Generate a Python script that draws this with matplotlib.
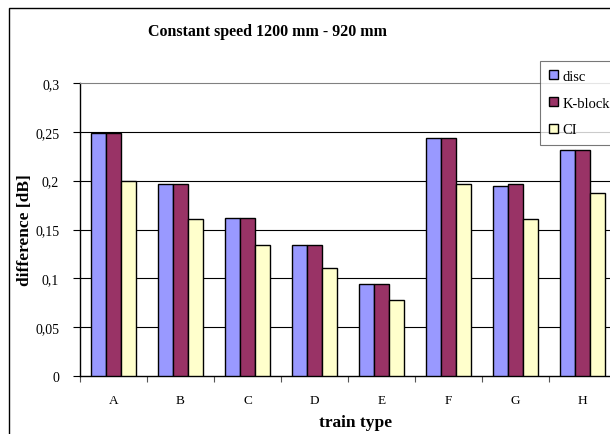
import matplotlib.pyplot as plt
import numpy as np
from matplotlib.patches import Rectangle

# valores
tipos = ['A', 'B', 'C', 'D', 'E', 'F', 'G', 'H']
disc = [0.249, 0.197, 0.162, 0.134, 0.094, 0.244, 0.195, 0.231]
k_block = [0.249, 0.197, 0.162, 0.134, 0.094, 0.244, 0.197, 0.231]
ci = [0.200, 0.161, 0.134, 0.111, 0.078, 0.197, 0.161, 0.187]

series = [('disc', disc, '#9999FF'), ('K-block', k_block, '#993366'), ('CI', ci, '#FFFFCC')]

plt.rcParams['font.family'] = ['Liberation Serif', 'DejaVu Serif']

fig = plt.figure(figsize=(6.1, 4.35), dpi=100)
W, H = 610, 435
ax = fig.add_axes([80 / W, 1 - 377 / H, (616 - 80) / W, (377 - 84) / H])

x = np.arange(len(tipos))
largura = 1 / 4.5
for i, (nome, valores, cor) in enumerate(series):
    ax.bar(x + (i - 1) * largura, valores, largura, color=cor, edgecolor='black',
           linewidth=1, label=nome, zorder=3)

ax.set_xlim(-0.5, len(tipos) - 0.5)
ax.set_ylim(0, 0.3)
ax.set_yticks([0, 0.05, 0.1, 0.15, 0.2, 0.25, 0.3])
ax.set_yticklabels(['0', '0,05', '0,1', '0,15', '0,2', '0,25', '0,3'], fontsize=10)
for yv in [0.05, 0.1, 0.15, 0.2, 0.25]:
    ax.axhline(yv, color='black', linewidth=0.8, zorder=1)

# ticks do eixo x nas fronteiras das categorias
ax.set_xticks(np.arange(-0.5, len(tipos) - 0.4, 1))
ax.set_xticklabels([])
ax.set_xticks(x, minor=True)
ax.set_xticklabels(tipos, minor=True, fontsize=9.5)
ax.tick_params(axis='x', which='major', length=4, color='#555555')
ax.tick_params(axis='x', which='minor', length=0, pad=13)
ax.tick_params(axis='y', length=5, width=0.8, pad=10)

ax.spines['top'].set_color('#808080')
ax.spines['right'].set_visible(False)
ax.spines['left'].set_linewidth(1)
ax.spines['bottom'].set_linewidth(1)

fig.text(268 / W, 1 - 32 / H, 'Constant speed 1200 mm - 920 mm', ha='center', va='center',
         fontsize=11.5, fontweight='bold')
fig.text(356 / W, 1 - 423 / H, 'train type', ha='center', va='center',
         fontsize=12.5, fontweight='bold')
fig.text(25 / W, 1 - 230 / H, 'difference [dB]', ha='center', va='center',
         fontsize=12.5, fontweight='bold', rotation=90)

leg = ax.legend(loc='upper left', bbox_to_anchor=(540 / W, 1 - 146 / H, 100 / W, 84 / H),
                bbox_transform=fig.transFigure, mode='expand', fontsize=10.5, frameon=True,
                fancybox=False, handlelength=0.6, handleheight=0.6,
                handletextpad=0.35, labelspacing=0.95, borderpad=0.6,
                borderaxespad=0)
leg.get_frame().set_edgecolor('#555555')
leg.get_frame().set_linewidth(0.8)

# moldura externa do grafico
fig.patches.append(Rectangle((9 / W, -0.1), 1.2, 1 - 9 / H + 0.1, transform=fig.transFigure,
                             fill=False, edgecolor='black', linewidth=1))

fig.savefig('out.png', dpi=100)
